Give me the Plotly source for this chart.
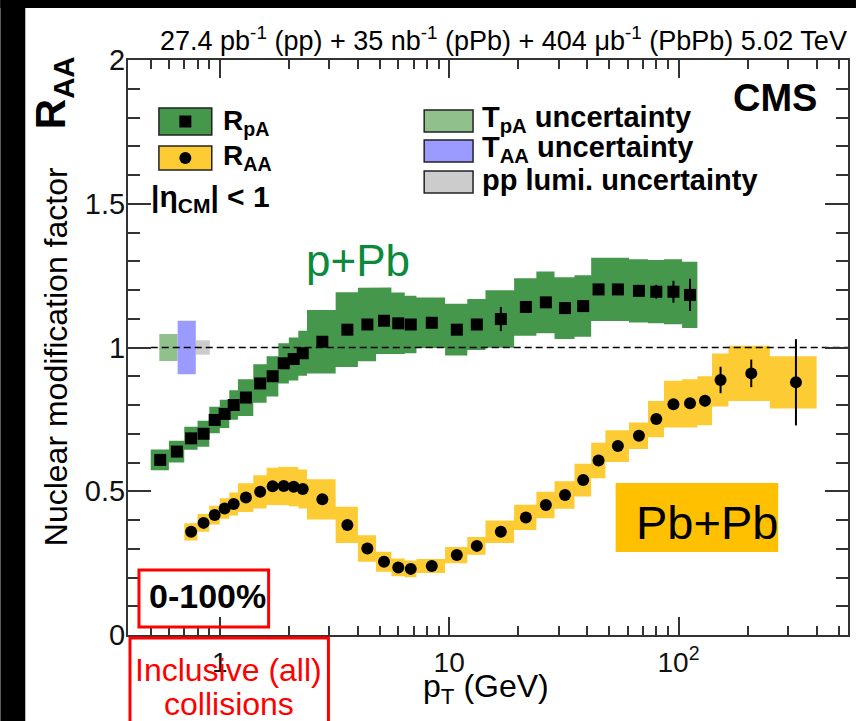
import math
import plotly.graph_objects as go

# ---------------------------------------------------------------- data ----
# pT bin edges (GeV)
bin_edges = [0.5, 0.6, 0.7, 0.8, 0.9, 1.0, 1.1, 1.2, 1.4, 1.6, 1.8, 2.0, 2.2,
             2.4, 3.2, 4.0, 4.8, 5.6, 6.4, 7.2, 9.6, 12.0, 14.4, 19.2, 24.0,
             28.8, 35.2, 41.6, 48.0, 60.8, 73.6, 86.4, 103.6, 120.8, 140.0,
             165.0, 250.0, 400.0]

# p+Pb: R_pA, bins 0.5 - 120.8 GeV
rpa_first_bin = 0
rpa = [0.609, 0.638, 0.684, 0.700, 0.748, 0.769, 0.800, 0.826, 0.875, 0.900,
       0.945, 0.960, 0.980, 1.020, 1.062, 1.080, 1.093, 1.084, 1.080, 1.086,
       1.062, 1.080, 1.099, 1.141, 1.157, 1.137, 1.144, 1.202, 1.202, 1.197,
       1.194, 1.194, 1.183]
rpa_stat = [0.004, 0.004, 0.004, 0.004, 0.004, 0.004, 0.004, 0.004, 0.004,
            0.004, 0.004, 0.004, 0.004, 0.005, 0.005, 0.005, 0.006, 0.006,
            0.006, 0.007, 0.008, 0.010, 0.042, 0.010, 0.010, 0.012, 0.012,
            0.010, 0.012, 0.018, 0.024, 0.038, 0.056]
rpa_sys = [0.036, 0.038, 0.040, 0.045, 0.046, 0.049, 0.051, 0.064, 0.067,
           0.070, 0.070, 0.075, 0.078, 0.110, 0.130, 0.128, 0.116, 0.107,
           0.100, 0.088, 0.090, 0.089, 0.100, 0.100, 0.107, 0.107, 0.107,
           0.110, 0.110, 0.110, 0.110, 0.113, 0.115]

# Pb+Pb: R_AA, bins 0.7 - 400 GeV
raa_first_bin = 2
raa = [0.359, 0.390, 0.417, 0.440, 0.456, 0.478, 0.498, 0.517, 0.518, 0.516,
       0.508, 0.472, 0.383, 0.301, 0.255, 0.235, 0.230, 0.240, 0.278, 0.310,
       0.359, 0.409, 0.452, 0.487, 0.539, 0.607, 0.657, 0.693, 0.751, 0.803,
       0.806, 0.815, 0.887, 0.910, 0.879]
raa_stat = [0.003, 0.003, 0.003, 0.003, 0.003, 0.003, 0.003, 0.003, 0.003,
            0.003, 0.003, 0.003, 0.003, 0.003, 0.003, 0.003, 0.003, 0.003,
            0.004, 0.004, 0.005, 0.005, 0.006, 0.006, 0.007, 0.007, 0.008,
            0.008, 0.008, 0.010, 0.012, 0.020, 0.046, 0.048, 0.150]
raa_sys = [0.030, 0.031, 0.033, 0.036, 0.040, 0.050, 0.058, 0.065, 0.067,
           0.068, 0.068, 0.070, 0.063, 0.046, 0.035, 0.031, 0.029, 0.024,
           0.028, 0.031, 0.039, 0.044, 0.046, 0.048, 0.057, 0.062, 0.055,
           0.046, 0.063, 0.081, 0.084, 0.085, 0.092, 0.096, 0.091]

# global normalisation uncertainties (half-widths around unity)
tpa_unc = 0.047
taa_unc = 0.093
lumi_unc = 0.025

x_tickvals = [1, 10, 100]
x_ticktext = ["1", "10", "10<sup>2</sup>"]
x_minor = [0.5, 0.6, 0.7, 0.8, 0.9, 2, 3, 4, 5, 6, 7, 8, 9,
           20, 30, 40, 50, 60, 70, 80, 90, 200, 300, 400, 500]
y_tickvals = [0, 0.5, 1, 1.5, 2]
y_ticktext = ["0", "0.5", "1", "1.5", "2"]

# ------------------------------------------------------------- styling ----
W, H = 858, 721
ML, MR, MT, MB = 128, 8, 60, 86
PW, PH = W - ML - MR, H - MT - MB
X_RANGE = (0.398, 548.0)

FONT = "Liberation Sans, Arial, Helvetica, sans-serif"
GREEN_BAND = "#45974c"
YELLOW_BAND = "#fdcb33"
TPA_COL = "#90c08c"
TAA_COL = "#9b9bff"
LUMI_COL = "#cccccc"
AXIS_COL = "#333333"


def px(x):
    """canvas pixel column -> paper x"""
    return (x - ML) / PW


def py(y):
    """canvas pixel row -> paper y"""
    return (H - MB - y) / PH


def centers(first):
    return [0.5 * (bin_edges[first + i] + bin_edges[first + i + 1])
            for i in range(len(bin_edges) - 1 - first)]


def band(first, vals, errs):
    """stepped outline of the per-bin systematic boxes"""
    xs, ys = [], []
    for i, (v, e) in enumerate(zip(vals, errs)):
        xs += [bin_edges[first + i], bin_edges[first + i + 1]]
        ys += [v + e, v + e]
    for i in reversed(range(len(vals))):
        xs += [bin_edges[first + i + 1], bin_edges[first + i]]
        ys += [vals[i] - errs[i]] * 2
    xs.append(xs[0])
    ys.append(ys[0])
    return xs, ys


def box(x0, x1, half):
    return [x0, x1, x1, x0, x0], [1 - half, 1 - half, 1 + half, 1 + half, 1 - half]


fig = go.Figure()

# systematic bands
for first, vals, errs, col in [(rpa_first_bin, rpa, rpa_sys, GREEN_BAND),
                               (raa_first_bin, raa, raa_sys, YELLOW_BAND)]:
    bx, by = band(first, vals, errs)
    fig.add_trace(go.Scatter(x=bx, y=by, mode="lines", fill="toself",
                             fillcolor=col, line=dict(width=0),
                             hoverinfo="skip", showlegend=False))

# global uncertainty boxes at unity
for (x0, x1), half, col in [((0.545, 0.655), tpa_unc, TPA_COL),
                            ((0.786, 0.905), lumi_unc, LUMI_COL),
                            ((0.655, 0.786), taa_unc, TAA_COL)]:
    bx, by = box(x0, x1, half)
    fig.add_trace(go.Scatter(x=bx, y=by, mode="lines", fill="toself",
                             fillcolor=col, line=dict(width=0),
                             hoverinfo="skip", showlegend=False))

# reference line at unity
fig.add_trace(go.Scatter(x=[0.5, 600], y=[1, 1], mode="lines",
                         line=dict(color="black", width=1.5, dash="7px,4px"),
                         hoverinfo="skip", showlegend=False))

# data points with statistical errors
rpa_x = centers(rpa_first_bin)[:len(rpa)]
raa_x = centers(raa_first_bin)[:len(raa)]
fig.add_trace(go.Scatter(
    x=rpa_x, y=rpa, mode="markers", name="R_pA",
    marker=dict(symbol="square", size=12, color="black"),
    error_y=dict(type="data", array=rpa_stat, color="black",
                 thickness=2, width=0),
    showlegend=False))
fig.add_trace(go.Scatter(
    x=raa_x, y=raa, mode="markers", name="R_AA",
    marker=dict(symbol="circle", size=12, color="black"),
    error_y=dict(type="data", array=raa_stat, color="black",
                 thickness=2, width=0),
    showlegend=False))

shapes = []
annotations = []

# black frame strips (left, top)
shapes.append(dict(type="rect", xref="paper", yref="paper",
                   x0=px(0), x1=px(25), y0=py(H), y1=py(0),
                   fillcolor="black", line=dict(width=0), layer="above"))
shapes.append(dict(type="rect", xref="paper", yref="paper",
                   x0=px(0), x1=px(W), y0=py(8), y1=py(0),
                   fillcolor="black", line=dict(width=0), layer="above"))


def rect(x0, y0, x1, y1, fill, line_col="#222222", lw=1.5):
    shapes.append(dict(type="rect", xref="paper", yref="paper",
                       x0=px(x0), x1=px(x1), y0=py(y1), y1=py(y0),
                       fillcolor=fill, line=dict(color=line_col, width=lw),
                       layer="above"))


def text(x, y, s, size, color="black", bold=False, xanchor="left",
         angle=0, bg=None):
    if bold:
        s = "<b>" + s + "</b>"
    annotations.append(dict(xref="paper", yref="paper", x=px(x), y=py(y),
                            text=s, showarrow=False, xanchor=xanchor,
                            yanchor="middle", textangle=angle,
                            bgcolor=bg,
                            font=dict(family=FONT, size=size, color=color)))


# left legend: R_pA / R_AA
rect(159, 108, 212, 135, GREEN_BAND)
rect(179.5, 115.5, 191.5, 127.5, "black", "black", 0)
rect(159, 146, 212, 170, YELLOW_BAND)
shapes.append(dict(type="circle", xref="paper", yref="paper",
                   x0=px(179.5), x1=px(191.5), y0=py(164), y1=py(152),
                   fillcolor="black", line=dict(width=0), layer="above"))
text(221, 122, "R<sub>pA</sub>", 28, bold=True)
text(221, 158, "R<sub>AA</sub>", 28, bold=True)
text(149, 198, "|η<sub>CM</sub>| &lt; 1", 30, bold=True)

# right legend: global uncertainties
for yc, col, label in [(121, TPA_COL, "T<sub>pA</sub> uncertainty"),
                       (151, TAA_COL, "T<sub>AA</sub> uncertainty"),
                       (182, LUMI_COL, "pp lumi. uncertainty")]:
    rect(425, yc - 11, 474, yc + 11, col)
    text(481, yc - 2, label, 29, bold=True)

# experiment label and luminosities
text(821, 98, "CMS", 38, bold=True, xanchor="right")
text(851, 39, "27.4 pb<sup>-1</sup> (pp) + 35 nb<sup>-1</sup> (pPb) + "
     "404 μb<sup>-1</sup> (PbPb) 5.02 TeV", 27, xanchor="right")

# axis titles
text(56, 357, "Nuclear modification factor", 32, xanchor="center",
     angle=-90)
text(53, 93, "R<sub>AA</sub>", 42, bold=True, xanchor="center", angle=-90)
text(487, 688, "p<sub>T</sub> (GeV)", 32, xanchor="center")

# system labels
text(359, 260, "p+Pb", 44, color="#0b8a3c", xanchor="center")
rect(617, 483, 780, 552, "#ffc000", "#ffc000", 0)
text(709, 522, "Pb+Pb", 47, xanchor="center")

# centrality and inclusive-collision boxes
rect(139, 570, 269, 627, "rgba(0,0,0,0)", "#ff0000", 3)
text(208, 596, "0-100%", 34, bold=True, xanchor="center")
rect(130, 638, 329, 730, "rgba(0,0,0,0)", "#ff0000", 3)
text(229, 670, "Inclusive (all)", 32, color="#ff0000", xanchor="center")
text(229, 704, "collisions", 32, color="#ff0000", xanchor="center")

fig.update_layout(
    width=W, height=H, autosize=False,
    margin=dict(l=ML, r=MR, t=MT, b=MB, pad=0),
    paper_bgcolor="white", plot_bgcolor="white",
    shapes=shapes, annotations=annotations,
    showlegend=False,
    xaxis=dict(type="log",
               range=[math.log10(X_RANGE[0]), math.log10(X_RANGE[1])],
               tickmode="array", tickvals=x_tickvals, ticktext=x_ticktext,
               ticks="inside", ticklen=18, tickwidth=1.5, tickcolor=AXIS_COL,
               minor=dict(tickmode="array", tickvals=x_minor, ticks="inside",
                          ticklen=9, tickwidth=1.5, tickcolor=AXIS_COL,
                          showgrid=False),
               showline=True, linecolor=AXIS_COL, linewidth=2,
               mirror="ticks", showgrid=False, zeroline=False,
               tickfont=dict(family=FONT, size=28, color="#111111"),
               ticklabelstandoff=1),
    yaxis=dict(range=[0, 2],
               tickmode="array", tickvals=y_tickvals, ticktext=y_ticktext,
               ticks="inside", ticklen=23, tickwidth=1.5, tickcolor=AXIS_COL,
               minor=dict(dtick=0.1, ticks="inside", ticklen=12,
                          tickwidth=1.5, tickcolor=AXIS_COL, showgrid=False),
               showline=True, linecolor=AXIS_COL, linewidth=2,
               mirror="ticks", showgrid=False, zeroline=False,
               tickfont=dict(family=FONT, size=29, color="#111111"),
               ticklabelstandoff=-5),
)

fig.write_html(
    "out.html",
    config={"displayModeBar": False, "responsive": False},
    default_width="%dpx" % W,
    default_height="%dpx" % H,
    post_script="document.documentElement.style.overflow='hidden';"
                "document.body.style.overflow='hidden';"
                "document.body.style.margin='0';"
                "document.body.style.background='white';",
)
